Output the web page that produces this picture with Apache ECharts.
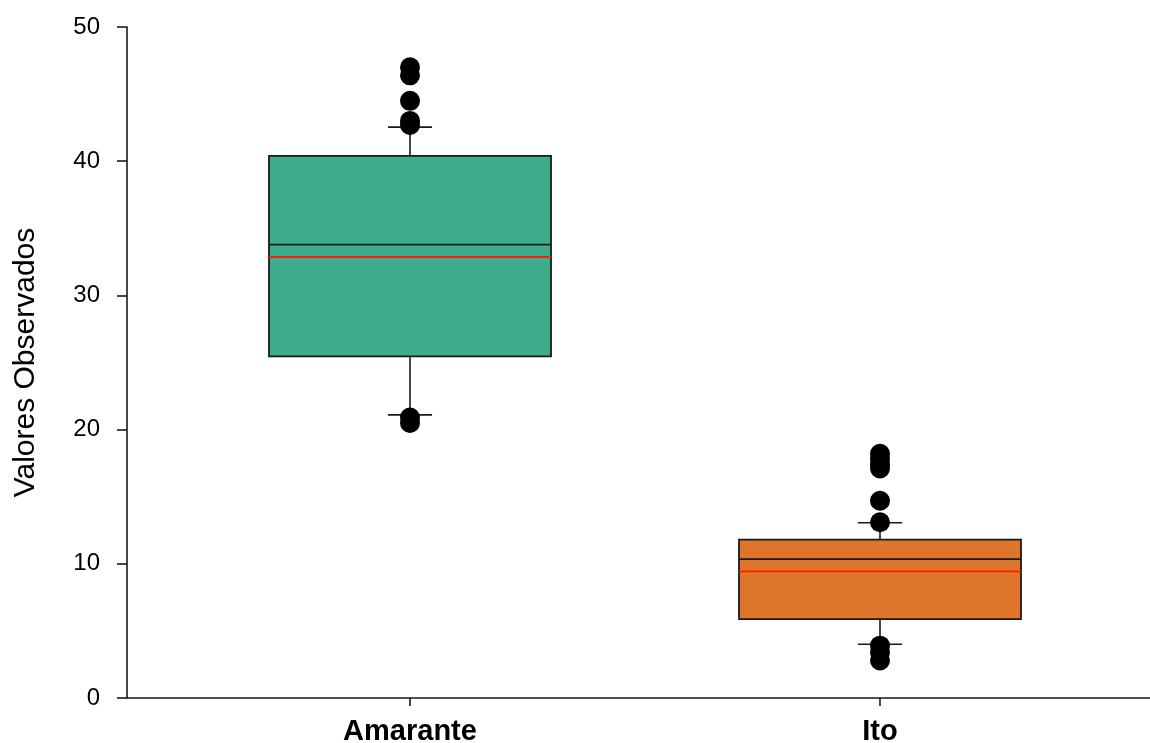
<!DOCTYPE html>
<html>
<head>
<meta charset="utf-8">
<script src="https://cdn.jsdelivr.net/npm/echarts@6/dist/echarts.min.js"></script>
<style>
  html, body { margin: 0; padding: 0; background: #fff; }
  #chart { width: 1150px; height: 743px; }
</style>
</head>
<body>
<div id="chart"></div>
<script>
// ---- data ----
var categories = ['Amarante', 'Ito'];
var lowerWhisker = [21.1, 4.0];
var q1 = [25.45, 5.87];
var median = [33.78, 10.35];
var q3 = [40.4, 11.8];
var upperWhisker = [42.54, 13.06];
var mean = [32.86, 9.43];
var outliersAmarante = [47.0, 46.4, 44.5, 43.0, 42.7, 20.9, 20.5];
var outliersIto = [18.2, 17.8, 17.4, 17.1, 14.7, 13.1, 3.9, 3.4, 2.8];
var yTicks = [0, 10, 20, 30, 40, 50];
var boxColors = ['#3EAD8B', '#DE752A'];
var yTitle = 'Valores Observados';

// ---- build ----
var boxData = categories.map(function (c, i) {
  return [i, lowerWhisker[i], q1[i], median[i], q3[i], upperWhisker[i], mean[i]];
});
var outlierData = [];
outliersAmarante.forEach(function (v) { outlierData.push([0, v]); });
outliersIto.forEach(function (v) { outlierData.push([1, v]); });

var FONT = 'Arial, "Liberation Sans", sans-serif';
var LINE = '#1a1a1a';

function renderBox(params, api) {
  var idx = api.value(0);
  var band = api.size([1, 0])[0];
  var half = band * 0.3;
  var capHalf = band * 0.047;
  var pLo = api.coord([idx, api.value(1)]);
  var pQ1 = api.coord([idx, api.value(2)]);
  var pMed = api.coord([idx, api.value(3)]);
  var pQ3 = api.coord([idx, api.value(4)]);
  var pHi = api.coord([idx, api.value(5)]);
  var pMean = api.coord([idx, api.value(6)]);
  var x = pQ1[0];
  var ls = { stroke: LINE, lineWidth: 1.6 };
  return {
    type: 'group',
    children: [
      { type: 'line', shape: { x1: x, y1: pQ3[1], x2: x, y2: pHi[1] }, style: ls },
      { type: 'line', shape: { x1: x, y1: pQ1[1], x2: x, y2: pLo[1] }, style: ls },
      { type: 'line', shape: { x1: x - capHalf, y1: pHi[1], x2: x + capHalf, y2: pHi[1] }, style: ls },
      { type: 'line', shape: { x1: x - capHalf, y1: pLo[1], x2: x + capHalf, y2: pLo[1] }, style: ls },
      { type: 'rect', shape: { x: x - half, y: pQ3[1], width: half * 2, height: pQ1[1] - pQ3[1] },
        style: { fill: boxColors[idx], stroke: LINE, lineWidth: 1.8 } },
      { type: 'line', shape: { x1: x - half, y1: pMed[1], x2: x + half, y2: pMed[1] }, style: { stroke: LINE, lineWidth: 1.6 } },
      { type: 'line', shape: { x1: x - half, y1: pMean[1], x2: x + half, y2: pMean[1] }, style: { stroke: '#FF1A0A', lineWidth: 1.8 } }
    ]
  };
}

var chart = echarts.init(document.getElementById('chart'), null, { renderer: 'canvas' });
chart.setOption({
  animation: false,
  backgroundColor: '#ffffff',
  grid: [
    { left: 127, right: 0, top: 27, bottom: 45, containLabel: false, outerBoundsMode: 'none' },
    { left: 175, right: 35, top: 27, bottom: 45, containLabel: false, outerBoundsMode: 'none' }
  ],
  xAxis: [
    { type: 'value', gridIndex: 0, min: 0, max: 1, show: true,
      axisLine: { show: true, onZero: false, lineStyle: { color: LINE, width: 1.6 } },
      axisTick: { show: false }, axisLabel: { show: false }, splitLine: { show: false } },
    { type: 'category', gridIndex: 1, data: categories, boundaryGap: true,
      axisLine: { show: false },
      axisTick: { show: true, alignWithLabel: true, length: 8, lineStyle: { color: LINE, width: 1.6 } },
      axisLabel: { show: true, margin: 19, color: '#000', fontFamily: FONT, fontWeight: 'bold', fontSize: 29 },
      splitLine: { show: false } }
  ],
  yAxis: [
    { type: 'value', gridIndex: 0, min: 0, max: 50, interval: 10,
      name: yTitle, nameLocation: 'middle', nameGap: 86, nameRotate: 90,
      nameTextStyle: { fontFamily: FONT, fontSize: 30, color: '#000' },
      axisLine: { show: true, lineStyle: { color: LINE, width: 1.6 } },
      axisTick: { show: true, inside: false, length: 10, lineStyle: { color: LINE, width: 1.6 } },
      axisLabel: { margin: 27, color: '#000', fontFamily: FONT, fontSize: 24,
        formatter: function (v) { return yTicks.indexOf(v) >= 0 ? String(v) : ''; } },
      splitLine: { show: false } },
    { type: 'value', gridIndex: 1, min: 0, max: 50, show: false, splitLine: { show: false } }
  ],
  series: [
    { type: 'custom', xAxisIndex: 1, yAxisIndex: 1, data: boxData, renderItem: renderBox, z: 2,
      encode: { x: 0, y: [1, 2, 3, 4, 5, 6] } },
    { type: 'scatter', xAxisIndex: 1, yAxisIndex: 1, data: outlierData, symbol: 'circle', symbolSize: 20,
      itemStyle: { color: '#000', opacity: 1 }, z: 3 }
  ]
});
</script>
</body>
</html>
